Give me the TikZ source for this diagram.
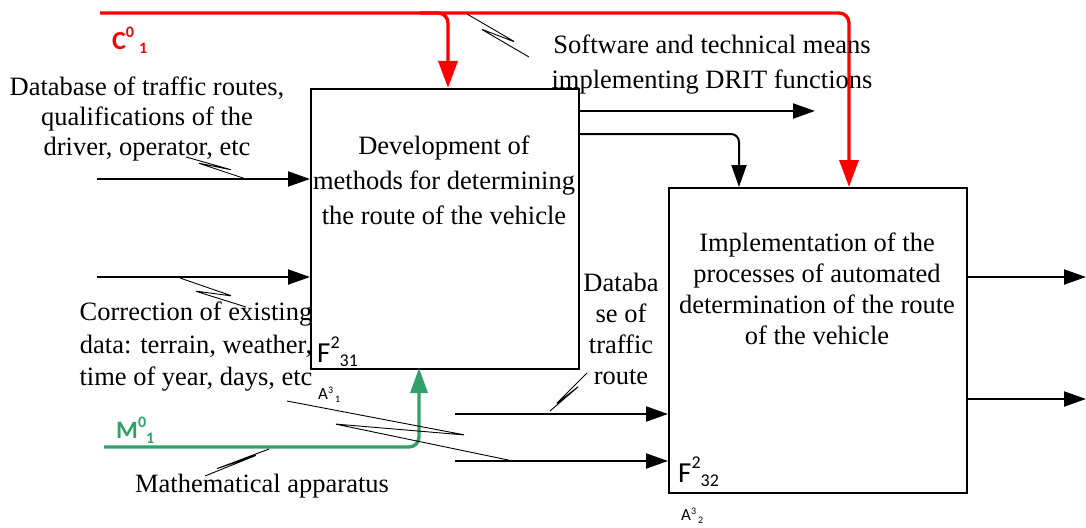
\documentclass[tikz,border=0pt]{standalone}
\usepackage{fontspec}
\setmainfont{Liberation Serif}
\newfontfamily\calib{Carlito}
\usetikzlibrary{arrows.meta}
\definecolor{idefred}{RGB}{255,0,0}
\definecolor{idefgreen}{RGB}{50,160,105}
\begin{document}
\begin{tikzpicture}[x=1pt,y=-1pt,
  box/.style={draw, line width=1.7pt, inner sep=0pt},
  flow/.style={line width=2pt, -{Triangle[length=22pt,width=15pt]}},
  ctrl/.style={line width=3.4pt, draw=idefred, rounded corners=10pt, -{Triangle[length=27pt,width=19pt]}},
  mech/.style={line width=3.4pt, draw=idefgreen, rounded corners=10pt, -{Triangle[length=25pt,width=17pt]}},
  squig/.style={line width=0.9pt, rounded corners=1.5pt},
  lbl/.style={align=center, inner sep=0pt},
  sanslbl/.style={anchor=base west, inner sep=0pt},
]
\useasboundingbox (0,0) rectangle (1086,527);

% boxes
\node[box, minimum width=268pt, minimum height=280pt, anchor=north west] (b1) at (310,88) {};
\node[box, minimum width=298pt, minimum height=305pt, anchor=north west] (b2) at (668,187) {};

% coordinates
\coordinate (cStart) at (100,13);
\coordinate (b1ctrl) at (448,88);
\coordinate (b2ctrl) at (849,187);
\coordinate (cBranch) at (420,13);
\coordinate (inA) at (97,179);
\coordinate (inB) at (97,277);
\coordinate (o1) at (815,111);
\coordinate (y134) at (0,134);
\coordinate (b2in) at (739,187);
\coordinate (out1) at (1086,277);
\coordinate (out2) at (1086,399);
\coordinate (in3) at (455,414);
\coordinate (in4) at (455,461);
\coordinate (mStart) at (104,447);
\coordinate (b1mech) at (419,368);

% control (red)
\draw[ctrl] (cStart) -- (cStart -| b2ctrl) -- (b2ctrl);
\draw[ctrl] (cBranch) -- (cBranch -| b1ctrl) -- (b1ctrl);

% inputs to box 1
\draw[flow] (inA) -- (inA -| b1.west);
\draw[flow] (inB) -- (inB -| b1.west);

% outputs of box 1
\draw[flow] (o1 -| b1.east) -- (o1);
\draw[flow, rounded corners=8pt] (b1.east |- y134) -- (b2in |- y134) -- (b2in);

% outputs of box 2
\draw[flow] (out1 -| b2.east) -- (out1);
\draw[flow] (out2 -| b2.east) -- (out2);

% inputs to box 2
\draw[flow] (in3) -- (in3 -| b2.west);
\draw[flow] (in4) -- (in4 -| b2.west);

% mechanism (green)
\draw[mech] (mStart) -- (mStart -| b1mech) -- (b1mech);

% squiggles
\draw[squig] (467,14) -- (515,42) -- (481,29) -- (529,57);
\draw[squig] (186,157) -- (232,170) -- (198,163) -- (246,179);
\draw[squig] (180,278) -- (232,296) -- (195,291) -- (246,307);
\draw[squig] (287,401) -- (465,435) -- (335,424) -- (513,461);
\draw[squig] (269,449) -- (216,469) -- (257,455) -- (205,476);
\draw[squig] (587,373) -- (556,404) -- (579,386) -- (550,411);

% texts
\node[lbl, font=\fontsize{26.5}{30}\selectfont] (tdb) at (147,119) {Database of traffic routes,\\qualifications of the\\driver, operator, etc};
\node[lbl, font=\fontsize{26.5}{35}\selectfont] (t1) at (444,180) {Development of\\methods for determining\\the route of the vehicle};
\node[lbl, font=\fontsize{26.5}{35}\selectfont] (tsw) at (712,65) {Software and technical means\\implementing DRIT functions};
\node[lbl, font=\fontsize{26.5}{31}\selectfont] (t2) at (817,289) {Implementation of the\\processes of automated\\determination of the route\\of the vehicle};
\node[lbl, font=\fontsize{26.5}{31}\selectfont] (tdr) at (621,329) {Databa\\se of\\traffic\\route};
\node[lbl, font=\fontsize{26.5}{32.5}\selectfont] (tcor) at (196,347) {Correction of existing\\data: terrain, weather,\\time of year, days, etc};
\node[lbl, font=\fontsize{26.5}{30}\selectfont] (tma) at (262,486) {Mathematical apparatus};

% sans labels
\node[sanslbl, text=idefred] (c01) at (112,50) {\calib\bfseries\fontsize{26}{26}\selectfont C\raisebox{13pt}{\fontsize{16}{16}\selectfont 0}\hspace{5pt}\raisebox{-3pt}{\fontsize{16}{16}\selectfont 1}};
\node[sanslbl, text=idefgreen] (m01) at (116,438) {\calib\bfseries\fontsize{25}{25}\selectfont M\raisebox{11pt}{\fontsize{16}{16}\selectfont 0}\raisebox{-5pt}{\fontsize{16}{16}\selectfont 1}};
\node[sanslbl] (f31) at (317,362) {\calib\fontsize{29}{29}\selectfont F\raisebox{13.5pt}{\fontsize{18}{18}\selectfont 2}\raisebox{-4pt}{\fontsize{18}{18}\selectfont 31}};
\node[sanslbl] (f32) at (678,482) {\calib\fontsize{29}{29}\selectfont F\raisebox{13.5pt}{\fontsize{18}{18}\selectfont 2}\raisebox{-4pt}{\fontsize{18}{18}\selectfont 32}};
\node[sanslbl] (a31) at (318,399) {\calib\fontsize{17}{17}\selectfont A\raisebox{6pt}{\fontsize{10}{10}\selectfont 3}\hspace{2pt}\raisebox{-3pt}{\fontsize{10}{10}\selectfont 1}};
\node[sanslbl] (a32) at (681,520) {\calib\fontsize{17}{17}\selectfont A\raisebox{6pt}{\fontsize{10}{10}\selectfont 3}\hspace{2pt}\raisebox{-3pt}{\fontsize{10}{10}\selectfont 2}};
\end{tikzpicture}
\end{document}
